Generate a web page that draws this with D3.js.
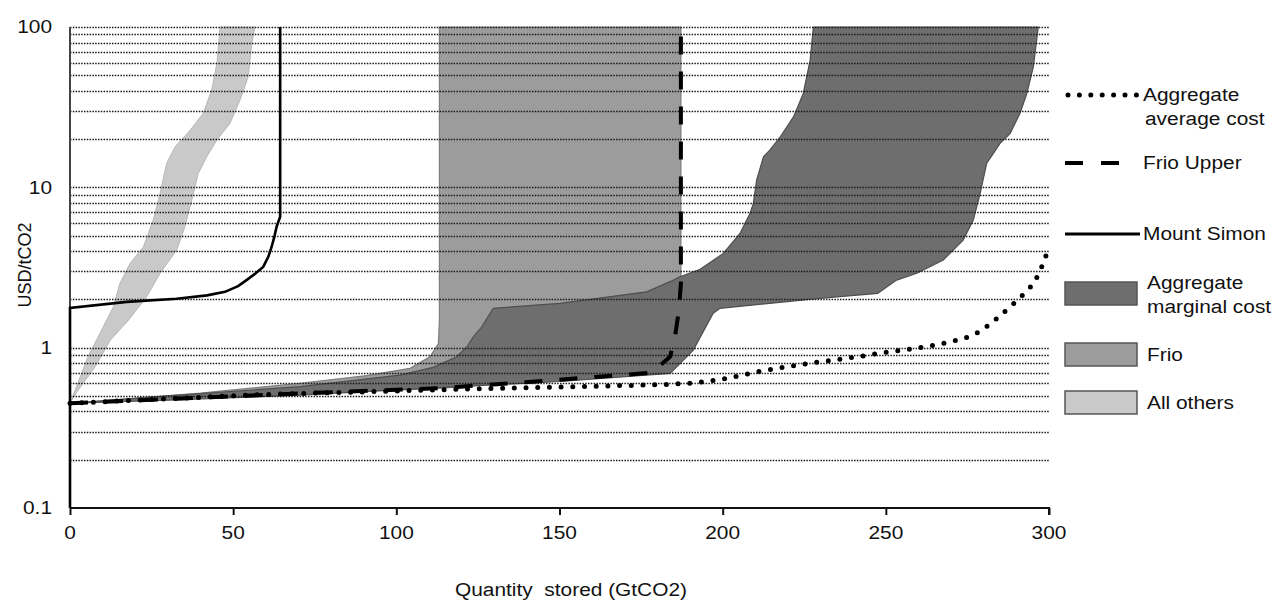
<!DOCTYPE html>
<html>
<head>
<meta charset="utf-8">
<script src="https://cdnjs.cloudflare.com/ajax/libs/d3/7.8.5/d3.min.js"></script>
<style>
  body { margin: 0; background: #fff; }
  text { font-family: "Liberation Sans", Arial, sans-serif; font-size: 18px; fill: #111; }
</style>
</head>
<body>
<div class="chart"></div>
<script>
// tick values
var xTicks = [0, 50, 100, 150, 200, 250, 300];
var yTicks = [0.1, 1, 10, 100];
var gridValues = [0.2, 0.3, 0.4, 0.5, 0.6, 0.7, 0.8, 0.9, 1,
  2, 3, 4, 5, 6, 7, 8, 9, 10,
  20, 30, 40, 50, 60, 70, 80, 90, 100];

// [GtCO2, USD/tCO2]
var allOthersLeft = [[0.5, 0.47], [1.0, 0.506], [5.5, 0.878], [10.2, 1.35], [13.3, 1.8], [15.3, 2.52],
  [18.4, 3.35], [22.5, 4.26], [25.5, 6.25], [27.6, 9.16], [29.6, 14.1], [32.2, 17.9], [36.8, 22.7],
  [40.8, 28.9], [43.4, 40.4], [45, 59.2], [46, 100]];
var allOthersRight = [[0.5, 0.47], [2.5, 0.544], [7.7, 0.76], [12.3, 1.11], [18, 1.49], [23.5, 2.08],
  [27.6, 2.91], [32.7, 4.06], [35.2, 5.67], [37.3, 8.32], [39.3, 12.2], [41.9, 15.5], [45, 19.7],
  [49, 25], [52.1, 35], [54.6, 48.9], [55.7, 78.9], [56.7, 100]];

var frioLower = [[0, 0.45], [40, 0.52], [70.5, 0.6], [90.9, 0.67], [104.2, 0.743], [110.3, 0.878],
  [112.9, 1.06], [113.2, 1.5], [113.2, 100]];
var frioUpper = [[0, 0.45], [70.5, 0.519], [112.9, 0.558], [145.6, 0.622], [178.2, 0.698],
  [183.9, 0.878], [185.4, 1.17], [186.6, 1.72], [187.2, 2.52], [187.2, 100]];

var aggTop = [[0, 0.45], [30, 0.5], [70.5, 0.571], [101.1, 0.675], [111.3, 0.754], [118.5, 0.878],
  [121.6, 1.01], [123.6, 1.17], [126.2, 1.35], [129.7, 1.76], [150.2, 1.89], [176.7, 2.23],
  [183.9, 2.58], [186.9, 2.77], [193.1, 3.08], [200.2, 3.87], [205.3, 5.16], [208.4, 6.88],
  [209.4, 7.94], [210.4, 11.1], [212.5, 15.5], [214.5, 17.1], [217.6, 20.6], [221.7, 27.5],
  [224.7, 38.5], [226.8, 62.1], [227.8, 100]];
var aggBottom = [[0, 0.45], [30, 0.47], [70.5, 0.506], [110, 0.56], [150.2, 0.615], [183.9, 0.691],
  [191, 0.966], [197.1, 1.64], [199.2, 1.76], [229.8, 2.03], [247.5, 2.18], [253.3, 2.64],
  [259.5, 2.91], [267.6, 3.52], [273.7, 4.69], [276.8, 6.25], [278.9, 9.16], [280.9, 14.1],
  [285, 18.8], [288.1, 21.7], [291.1, 28.9], [293.2, 38.5], [295.2, 56.4], [296.7, 100]];

var avgCost = [[0, 0.45], [30, 0.48], [60, 0.51], [90, 0.53], [110, 0.544], [131.8, 0.558],
  [162.4, 0.576], [189, 0.599], [201.2, 0.644], [212.5, 0.718], [227.8, 0.805], [240, 0.87],
  [251.3, 0.943], [263, 1.02], [270.7, 1.1], [277.8, 1.23], [283.5, 1.49], [288.6, 1.84],
  [293.2, 2.26], [295.2, 2.52], [297.5, 3.1], [299.3, 3.87], [300, 4.3]];

var mountSimon = [[0, 0.1], [0, 1.77], [17.4, 1.93], [32.7, 2.02], [42, 2.12], [47.5, 2.23],
  [51.5, 2.42], [54.1, 2.64], [57, 2.92], [59.2, 3.19], [60.8, 3.7], [61.8, 4.26], [62.7, 5.0],
  [63.3, 5.67], [64.4, 6.55], [64.4, 100]];

var lineLabels = [["Aggregate", "average cost"], ["Frio Upper"], ["Mount Simon"]];
var boxLabels = [["Aggregate", "marginal cost"], ["Frio"], ["All others"]];
var boxColors = ["#6e6e6e", "#9c9c9c", "#c9c9c9"];

var svgWidth = 1276;
var svgHeight = 601;
var margin = { top: 27, right: 227, bottom: 93, left: 70 };
var width = svgWidth - margin.left - margin.right;
var height = svgHeight - margin.top - margin.bottom;
var stretch = 1.16; // the picture's text is wide

var svg = d3.select(".chart")
  .append("svg")
  .attr("width", svgWidth)
  .attr("height", svgHeight);

var chartGroup = svg.append("g")
  .attr("transform", `translate(${margin.left}, ${margin.top})`);

var x = d3.scaleLinear().domain([0, 300]).range([0, width]);
var y = d3.scaleLog().domain([0.1, 100]).range([height, 0]);

var line = d3.line().x(d => x(d[0])).y(d => y(d[1]));
var smooth = d3.line().x(d => x(d[0])).y(d => y(d[1])).curve(d3.curveMonotoneX);

function band(left, right) {
  return line(left.concat(right.slice().reverse())) + "Z";
}

function addText(g, tx, ty, str, anchor) {
  return g.append("text")
    .attr("transform", `translate(${tx}, ${ty}) scale(${stretch}, 1)`)
    .attr("text-anchor", anchor)
    .attr("dy", "0.35em")
    .text(str);
}

// bands
chartGroup.append("path")
  .attr("d", band(frioLower, frioUpper))
  .attr("fill", "#9c9c9c")
  .attr("stroke", "#7c7c7c")
  .attr("stroke-width", 1.2);

chartGroup.append("path")
  .attr("d", band(aggTop, aggBottom))
  .attr("fill", "#6e6e6e")
  .attr("stroke", "#4e4e4e")
  .attr("stroke-width", 1.2);

chartGroup.append("path")
  .attr("d", band(allOthersLeft, allOthersRight))
  .attr("fill", "#c9c9c9")
  .attr("stroke", "#b8b8b8")
  .attr("stroke-width", 1);

// dotted gridlines
chartGroup.selectAll(".grid")
  .data(gridValues)
  .enter()
  .append("line")
  .attr("class", "grid")
  .attr("x1", 0)
  .attr("x2", width)
  .attr("y1", d => Math.round(y(d)) + 0.5)
  .attr("y2", d => Math.round(y(d)) + 0.5)
  .attr("stroke", "#1a1a1a")
  .attr("stroke-width", 1.4)
  .attr("stroke-dasharray", "1.5,1.3");

// axes
var bottomAxis = d3.axisBottom(x).tickValues(xTicks).tickSize(7).tickFormat("");
var xAxis = chartGroup.append("g")
  .attr("transform", `translate(0, ${height})`)
  .call(bottomAxis);
xAxis.select(".domain").attr("stroke", "#111").attr("stroke-width", 2).attr("d", `M0,0H${width}V7`);
xAxis.selectAll(".tick line").attr("stroke", "#111").attr("stroke-width", 2);

chartGroup.append("line")
  .attr("x1", 0).attr("x2", 0)
  .attr("y1", 0).attr("y2", height)
  .attr("stroke", "#444")
  .attr("stroke-width", 2);

xTicks.forEach(function(t) {
  addText(chartGroup, x(t), height + 25, t, "middle");
});
yTicks.forEach(function(t) {
  addText(chartGroup, -18, y(t), t, "end");
});

// lines
chartGroup.append("path")
  .attr("d", line(mountSimon))
  .attr("fill", "none")
  .attr("stroke", "#000")
  .attr("stroke-width", 2.6);

chartGroup.append("path")
  .attr("d", line(frioUpper))
  .attr("fill", "none")
  .attr("stroke", "#000")
  .attr("stroke-width", 4)
  .attr("stroke-dasharray", "18,17");

chartGroup.append("path")
  .attr("d", smooth(avgCost))
  .attr("fill", "none")
  .attr("stroke", "#000")
  .attr("stroke-width", 5)
  .attr("stroke-linecap", "round")
  .attr("stroke-dasharray", "0,11.7");

// axis titles
svg.append("text")
  .attr("transform", "translate(25, 265) rotate(-90)")
  .attr("text-anchor", "middle")
  .attr("dy", "0.35em")
  .text("USD/tCO2");
addText(svg, 571, 590, "Quantity\u00a0\u00a0stored (GtCO2)", "middle");

// legend
var legend = svg.append("g");
var lineY = [95, 163, 234];
var lineStyles = [
  { dash: "0,11.4", width: 5, cap: "round", x1: 1068, x2: 1137 },
  { dash: "18,18", width: 4, cap: "butt", x1: 1065, x2: 1137 },
  { dash: null, width: 3, cap: "butt", x1: 1065, x2: 1140 }
];
lineLabels.forEach(function(lbl, i) {
  var s = lineStyles[i];
  legend.append("line")
    .attr("x1", s.x1).attr("x2", s.x2)
    .attr("y1", lineY[i]).attr("y2", lineY[i])
    .attr("stroke", "#000")
    .attr("stroke-width", s.width)
    .attr("stroke-linecap", s.cap)
    .attr("stroke-dasharray", s.dash);
  lbl.forEach(function(t, j) {
    addText(legend, 1143 + (j ? 2 : 0), lineY[i] + j * 24, t, "start");
  });
});

var boxY = [282, 343, 391];
boxLabels.forEach(function(lbl, i) {
  legend.append("rect")
    .attr("x", 1065).attr("y", boxY[i])
    .attr("width", 72).attr("height", 23)
    .attr("fill", boxColors[i])
    .attr("stroke", "#555")
    .attr("stroke-width", 1.5);
  lbl.forEach(function(t, j) {
    addText(legend, 1147, boxY[i] + (lbl.length > 1 ? 1 : 12) + j * 24, t, "start");
  });
});
</script>
</body>
</html>
